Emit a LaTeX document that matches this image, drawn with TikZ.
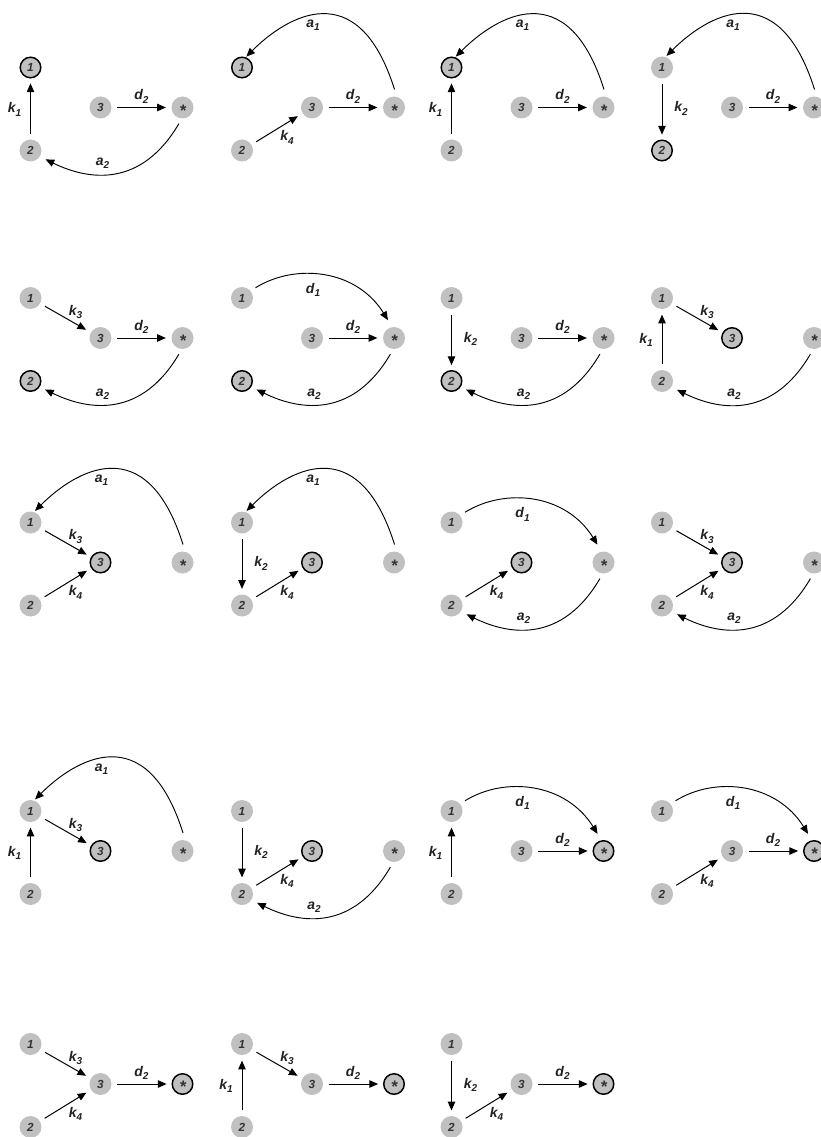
\documentclass[tikz,border=0pt]{standalone}
\usepackage{fontspec}
\setmainfont{Liberation Sans}
\usetikzlibrary{arrows.meta,calc}
\definecolor{ndgray}{HTML}{C0C0C0}
\definecolor{ndtext}{HTML}{333333}
\definecolor{lbltext}{HTML}{222222}
\tikzset{
 nd/.style={circle, fill=ndgray, minimum size=16.5pt, inner sep=0pt, outer sep=0pt, text=ndtext, font=\fontsize{8.8}{10}\selectfont\bfseries\itshape},
 hl/.style={nd, draw=black, line width=1.1pt, minimum size=15.4pt},
 arr/.style={line width=0.75pt, -{Triangle[length=6.5pt,width=5.5pt]}, shorten <=4.2pt, shorten >=4.2pt},
 carr/.style={line width=0.7pt, -{Triangle[length=6.5pt,width=5.5pt]}},
 lbl/.style={inner sep=0pt, font=\fontsize{10.5}{12}\selectfont\bfseries\itshape, text=lbltext},
}
\newcommand{\mylab}[2]{#1\raisebox{-0.45ex}{\fontsize{7.5}{8}\selectfont #2}}
\newcommand{\starsym}{\smash{\raisebox{-3.6pt}{\fontsize{12.5}{13}\selectfont *}}\vphantom{1}}
\newcommand{\mkpanel}[7]{%
  \node[#4] (#1a) at (#2,#3-40) {1};
  \node[#5] (#1b) at (#2,#3+43) {2};
  \node[#6] (#1c) at (#2+70,#3) {3};
  \node[#7] (#1s) at (#2+152,#3) {\starsym};
}
\newcommand{\eDtwo}[1]{\draw[arr] (#1c) -- (#1s); \node[lbl] at ($(#1c)+(41,-11)$) {\mylab{d}{2}};}
\newcommand{\eKone}[1]{\draw[arr] (#1b) -- (#1a); \node[lbl] at ($(#1a)+(-16,42)$) {\mylab{k}{1}};}
\newcommand{\eKtwo}[1]{\draw[arr] (#1a) -- (#1b); \node[lbl] at ($(#1a)+(19,41)$) {\mylab{k}{2}};}
\newcommand{\eKthree}[1]{\draw[arr] (#1a) -- (#1c); \node[lbl] at ($(#1c)+(-25,-26)$) {\mylab{k}{3}};}
\newcommand{\eKfour}[1]{\draw[arr] (#1b) -- (#1c); \node[lbl] at ($(#1c)+(-25,30)$) {\mylab{k}{4}};}
\newcommand{\eAone}[1]{\draw[carr, shorten <=5.8pt, shorten >=1.2pt] (#1s.75) .. controls +(-39,-124) and +(41,-41) .. (#1a.72); \node[lbl] at ($(#1c)+(1,-82)$) {\mylab{a}{1}};}
\newcommand{\eAtwo}[1]{\draw[carr, shorten <=4.5pt, shorten >=4.9pt] (#1s.267) .. controls +(-40,68) and +(51,25) .. (#1b.327); \node[lbl] at ($(#1c)+(2,56)$) {\mylab{a}{2}};}
\newcommand{\eDone}[1]{\draw[carr, shorten <=4.5pt, shorten >=6.2pt] (#1a.40) .. controls +(45,-28) and +(-36,-58) .. (#1s.99); \node[lbl] at ($(#1c)+(1,-48)$) {\mylab{d}{1}};}
\begin{document}
\begin{tikzpicture}[x=0.75pt,y=-0.75pt]
\fill[white] (0,0) rectangle (820,1137);
\useasboundingbox (0,0) rectangle (820,1137);
% Row 1
\mkpanel{pAA}{30.5}{107.5}{hl}{nd}{nd}{nd}
\eKone{pAA}\eDtwo{pAA}\eAtwo{pAA}
\mkpanel{pAB}{242}{107.5}{hl}{nd}{nd}{nd}
\eAone{pAB}\eKfour{pAB}\eDtwo{pAB}
\mkpanel{pAC}{451.5}{107.5}{hl}{nd}{nd}{nd}
\eAone{pAC}\eKone{pAC}\eDtwo{pAC}
\mkpanel{pAD}{662}{107.5}{nd}{hl}{nd}{nd}
\eAone{pAD}\eKtwo{pAD}\eDtwo{pAD}
% Row 2
\mkpanel{pBA}{30.5}{338}{nd}{hl}{nd}{nd}
\eKthree{pBA}\eDtwo{pBA}\eAtwo{pBA}
\mkpanel{pBB}{242}{338}{nd}{hl}{nd}{nd}
\eDone{pBB}\eDtwo{pBB}\eAtwo{pBB}
\mkpanel{pBC}{451.5}{338}{nd}{hl}{nd}{nd}
\eKtwo{pBC}\eDtwo{pBC}\eAtwo{pBC}
\mkpanel{pBD}{662}{338}{nd}{nd}{hl}{nd}
\eKone{pBD}\eKthree{pBD}\eAtwo{pBD}
% Row 3
\mkpanel{pCA}{30.5}{562.5}{nd}{nd}{hl}{nd}
\eAone{pCA}\eKthree{pCA}\eKfour{pCA}
\mkpanel{pCB}{242}{562.5}{nd}{nd}{hl}{nd}
\eAone{pCB}\eKtwo{pCB}\eKfour{pCB}
\mkpanel{pCC}{451.5}{562.5}{nd}{nd}{hl}{nd}
\eDone{pCC}\eKfour{pCC}\eAtwo{pCC}
\mkpanel{pCD}{662}{562.5}{nd}{nd}{hl}{nd}
\eKthree{pCD}\eKfour{pCD}\eAtwo{pCD}
% Row 4
\mkpanel{pDA}{30.5}{851}{nd}{nd}{hl}{nd}
\eAone{pDA}\eKthree{pDA}\eKone{pDA}
\mkpanel{pDB}{242}{851}{nd}{nd}{hl}{nd}
\eKtwo{pDB}\eKfour{pDB}\eAtwo{pDB}
\mkpanel{pDC}{451.5}{851}{nd}{nd}{nd}{hl}
\eKone{pDC}\eDone{pDC}\eDtwo{pDC}
\mkpanel{pDD}{662}{851}{nd}{nd}{nd}{hl}
\eDone{pDD}\eDtwo{pDD}\eKfour{pDD}
% Row 5
\mkpanel{pEA}{30.5}{1084}{nd}{nd}{nd}{hl}
\eKthree{pEA}\eKfour{pEA}\eDtwo{pEA}
\mkpanel{pEB}{242}{1084}{nd}{nd}{nd}{hl}
\eKone{pEB}\eKthree{pEB}\eDtwo{pEB}
\mkpanel{pEC}{451.5}{1084}{nd}{nd}{nd}{hl}
\eKtwo{pEC}\eKfour{pEC}\eDtwo{pEC}
\end{tikzpicture}
\end{document}
